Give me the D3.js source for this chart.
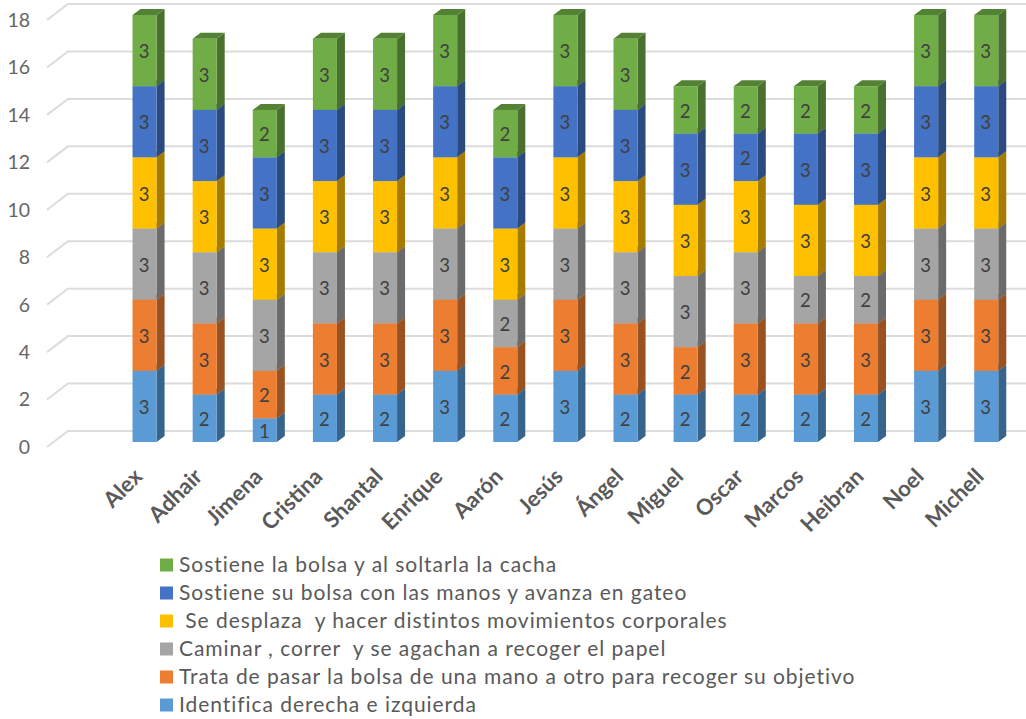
<!DOCTYPE html>
<html><head><meta charset="utf-8">
<script src="https://cdn.jsdelivr.net/npm/d3@7"></script>
<style>html,body{margin:0;padding:0;background:#fff}svg{display:block}text{font-family:Lato,sans-serif}</style>
</head><body><svg id="c" width="1026" height="719"></svg>
<script>
const categories=["Alex","Adhair","Jimena","Cristina","Shantal","Enrique","Aarón","Jesús","Ángel","Miguel","Oscar","Marcos","Heibran","Noel","Michell"];
const seriesNames=["Identifica derecha e izquierda","Trata de pasar la bolsa de una mano a otro para recoger su objetivo","Caminar , correr  y se agachan a recoger el papel"," Se desplaza  y hacer distintos movimientos corporales","Sostiene su bolsa con las manos y avanza en gateo","Sostiene la bolsa y al soltarla la cacha"];
const identifica=[3,2,1,2,2,3,2,3,2,2,2,2,2,3,3];
const trata=[3,3,2,3,3,3,2,3,3,2,3,3,3,3,3];
const caminar=[3,3,3,3,3,3,2,3,3,3,3,2,2,3,3];
const desplaza=[3,3,3,3,3,3,3,3,3,3,3,3,3,3,3];
const sostieneManos=[3,3,3,3,3,3,3,3,3,3,2,3,3,3,3];
const sostieneSoltar=[3,3,2,3,3,3,2,3,3,2,2,2,2,3,3];
const front=["#5b9bd5","#ed7d31","#a5a5a5","#ffc000","#4472c4","#70ad47"];
const side=["#36648c","#9a5220","#6b6b6b","#a67c00","#2a4a80","#49702e"];
const topc=["#4a7fb0","#c0662a","#858585","#cc9a00","#375c9e","#548235"];
const yTicks=[0,2,4,6,8,10,12,14,16,18];
const table=[identifica,trata,caminar,desplaza,sostieneManos,sostieneSoltar];

const svg=d3.select("#c");
const depth={dx:8,dy:-6}, wall={dx:21,dy:-16};
const y=d3.scaleLinear().domain([0,18]).range([442,15]);
const x=d3.scaleBand().domain(categories).range([114.5,1016.3]).paddingInner(0.6).paddingOuter(0.3);
const tickOff=5;
const g=svg.append("g");
yTicks.forEach(t=>{
  const yy=y(t)+tickOff;
  g.append("path").attr("d",`M47,${yy}L${47+wall.dx},${yy+wall.dy}L1026,${yy+wall.dy}`)
   .attr("fill","none").attr("stroke","#dcdcdc").attr("stroke-width",2);
  g.append("text").attr("x",30).attr("y",yy+2).attr("text-anchor","end").attr("dominant-baseline","middle")
   .attr("font-size",19.5).attr("fill","#666").text(t);
});
const stack=d3.stack().keys(d3.range(6)).value((d,k)=>table[k][d]);
const layers=stack(d3.range(categories.length));
layers.forEach((layer,k)=>{
  const lg=svg.append("g");
  layer.forEach((d,i)=>{
    const x0=x(categories[i]), w=x.bandwidth(), y1=y(d[1]), y0=y(d[0]);
    lg.append("path").attr("d",`M${x0+w},${y1}l${depth.dx},${depth.dy}L${x0+w+depth.dx},${y0+depth.dy}L${x0+w},${y0}Z`).attr("fill",side[k]);
    lg.append("path").attr("d",`M${x0},${y1}l${depth.dx},${depth.dy}h${w}l${-depth.dx},${-depth.dy}Z`).attr("fill",topc[k]);
    lg.append("rect").attr("x",x0).attr("y",y1).attr("width",w).attr("height",y0-y1).attr("fill",front[k]);
  });
});
layers.forEach((layer,k)=>{
  layer.forEach((d,i)=>{
    svg.append("text").attr("x",x(categories[i])+x.bandwidth()/2-0.5).attr("y",(y(d[0])+y(d[1]))/2+3)
     .attr("text-anchor","middle").attr("dominant-baseline","middle").attr("font-size",18.5).attr("fill","#404040").text(d[1]-d[0]);
  });
});
categories.forEach(c=>{
  const cx=x(c)+x.bandwidth()/2-1;
  svg.append("text").attr("transform",`translate(${cx},478) rotate(-45)`).attr("text-anchor","end")
   .attr("font-size",22).attr("font-weight",700).attr("fill","#595959").text(c);
});
const legendY=d3.scalePoint().domain(d3.range(6)).range([705,565]);
d3.range(6).forEach(k=>{
  const ly=legendY(k);
  svg.append("rect").attr("x",160).attr("y",ly-6.5).attr("width",13).attr("height",13).attr("fill",front[k]);
  svg.append("text").attr("x",179).attr("y",ly+2).attr("dominant-baseline","middle").style("white-space","pre")
   .attr("font-size",21).attr("letter-spacing",0.95).attr("fill","#595959").text(seriesNames[k]);
});
</script></body></html>
